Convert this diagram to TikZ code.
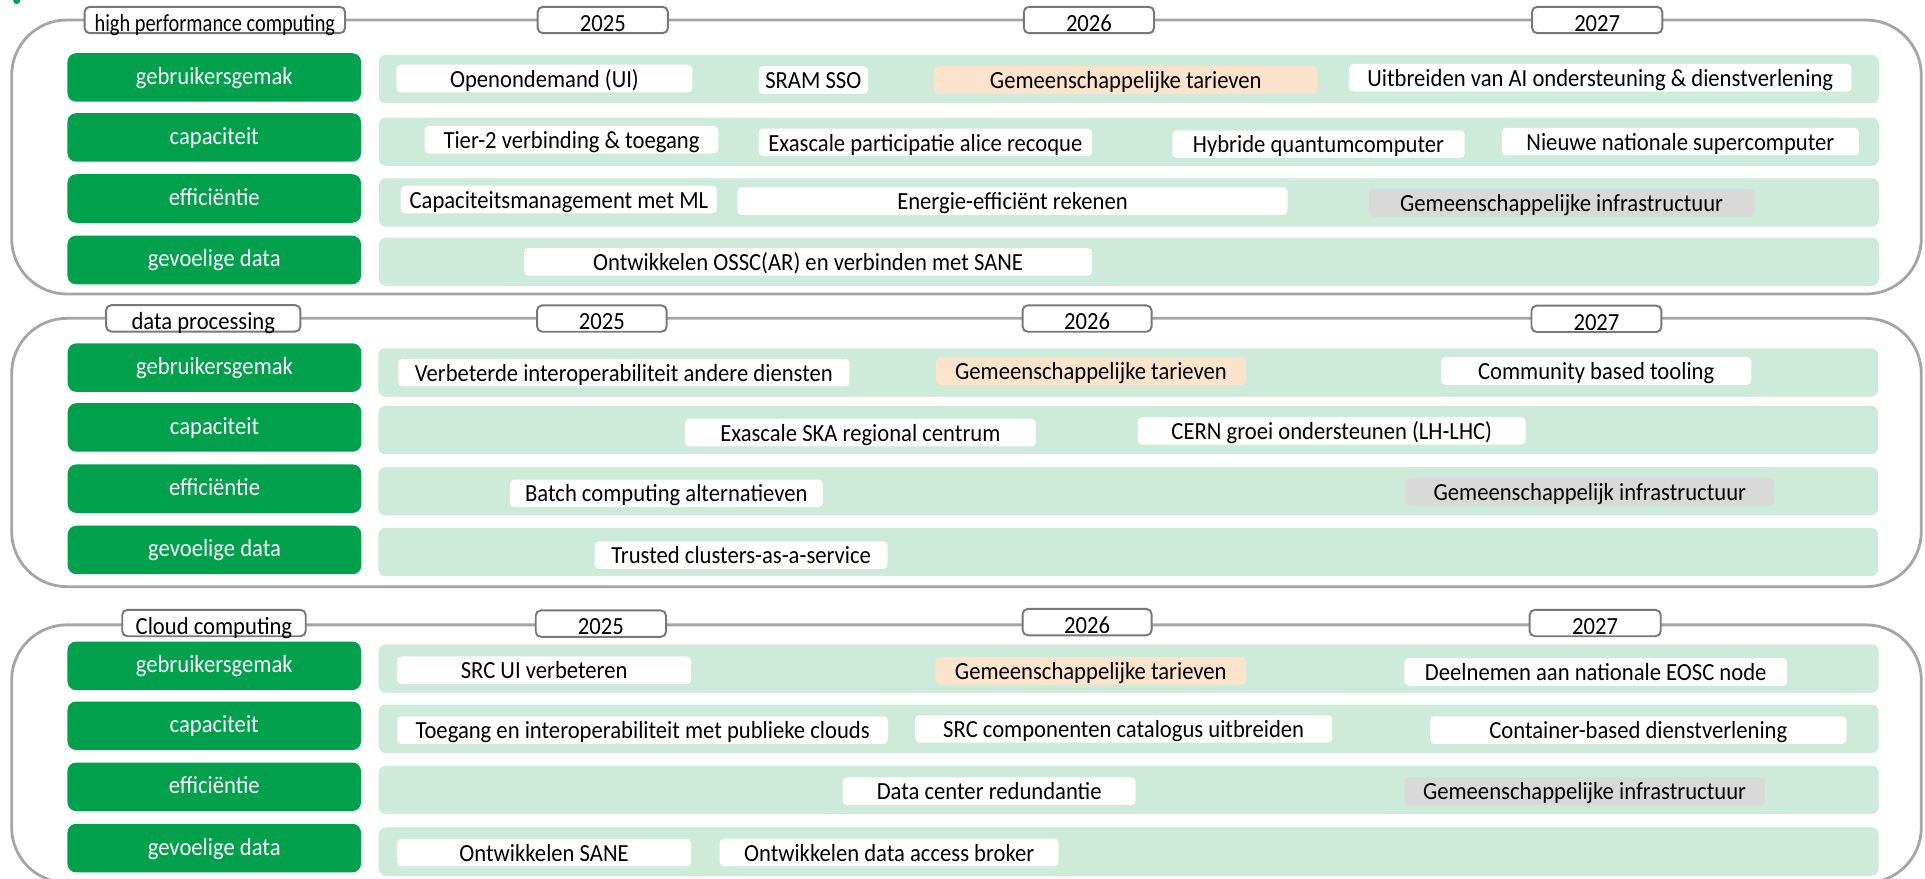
\documentclass[tikz,border=0pt]{standalone}
\usepackage{fontspec}
\usepackage{graphicx}
\setmainfont{Carlito}[FakeStretch=0.92]

\definecolor{catgreen}{RGB}{0,160,76}
\definecolor{bandgreen}{RGB}{206,234,218}
\definecolor{tariefpeach}{RGB}{251,227,204}
\definecolor{infragray}{RGB}{217,217,217}
\definecolor{framegray}{RGB}{165,165,165}
\definecolor{taggray}{RGB}{120,120,120}

\tikzset{
	secframe/.style={draw=framegray, line width=0.65pt, rounded corners=0.45cm},
	yeartag/.style={draw=taggray, line width=0.45pt, fill=white, rounded corners=1.2pt, inner sep=0pt, minimum height=0.215cm, text height=5.2pt, text depth=0pt},
	catbox/.style={fill=catgreen, text=white, rounded corners=2pt, inner sep=0pt, minimum width=2.39cm, minimum height=0.395cm, text height=3.2pt, text depth=0pt},
	rowband/.style={fill=bandgreen, rounded corners=1.6pt, inner sep=0pt, minimum width=12.21cm, minimum height=0.393cm},
	itembox/.style={fill=white, rounded corners=1pt, inner sep=0pt, minimum height=0.225cm, text height=4pt, text depth=0pt},
	tariefbox/.style={itembox, fill=tariefpeach},
	infrabox/.style={itembox, fill=infragray}
}

\begin{document}
\begin{tikzpicture}[x=0.01cm, y=-0.01cm, font=\fontsize{5.7pt}{6.8pt}\selectfont]

	\useasboundingbox (0,0) rectangle (1568,716);
	\fill[catgreen] (13.6,0.5) circle (0.8pt);

	% high performance computing
	\draw[secframe] (9.5,16.3) rectangle (1565,239.5);
	\node[yeartag, minimum width=2.12cm] (hpcTitle) at (175,16.3) {\scalebox{0.9}[1]{high performance computing}};
	\node[yeartag, minimum width=1.06cm] (hpcY25) at (491,16.3) {2025};
	\node[yeartag, minimum width=1.06cm] (hpcY26) at (887,16.3) {2026};
	\node[yeartag, minimum width=1.06cm] (hpcY27) at (1301,16.3) {2027};

	\node[catbox] (hpcGemak) at (174.5,63.1) {gebruikersgemak};
	\node[catbox] (hpcCap) at (174.5,112) {capaciteit};
	\node[catbox] (hpcEff) at (174.5,161.7) {efficiëntie};
	\node[catbox] (hpcData) at (174.5,211.8) {gevoelige data};

	\node[rowband] (hpcBandGemak) at (919.5,64.4) {};
	\node[rowband] (hpcBandCap) at (919.5,115.4) {};
	\node[rowband] (hpcBandEff) at (919.5,165) {};
	\node[rowband] (hpcBandData) at (919.5,213.2) {};

	\node[itembox, minimum width=2.41cm] (hpcOod) at (443.5,64) {Openondemand (UI)};
	\node[itembox, minimum width=0.89cm] (hpcSram) at (662.5,65.2) {SRAM SSO};
	\node[tariefbox, minimum width=3.12cm] (hpcTarief) at (917,65.2) {Gemeenschappelijke tarieven};
	\node[itembox, minimum width=4.09cm] (hpcAI) at (1303.5,63.3) {Uitbreiden van AI ondersteuning \& dienstverlening};

	\node[itembox, minimum width=2.39cm] (hpcTier) at (465.5,113.8) {Tier-2 verbinding \& toegang};
	\node[itembox, minimum width=2.715cm] (hpcExa) at (753.75,116) {Exascale participatie alice recoque};
	\node[itembox, minimum width=2.38cm] (hpcQuantum) at (1074,117.4) {Hybride quantumcomputer};
	\node[itembox, minimum width=2.905cm] (hpcSuper) at (1368.75,115.4) {Nieuwe nationale supercomputer};

	\node[itembox, minimum width=2.575cm] (hpcML) at (455.25,162.5) {Capaciteitsmanagement met ML};
	\node[itembox, minimum width=4.48cm] (hpcEnergie) at (824.7,163.8) {Energie-efficiënt rekenen};
	\node[infrabox, minimum width=3.14cm] (hpcInfra) at (1272,165.25) {Gemeenschappelijke infrastructuur};

	\node[itembox, minimum width=4.625cm] (hpcOssc) at (658.25,213.3) {Ontwikkelen OSSC(AR) en verbinden met SANE};

	% data processing
	\draw[secframe] (9.5,259.3) rectangle (1565,477.9);
	\node[yeartag, minimum width=1.582cm] (dpTitle) at (165.6,259.3) {data processing};
	\node[yeartag, minimum width=1.055cm] (dpY25) at (490.25,259.5) {2025};
	\node[yeartag, minimum width=1.05cm] (dpY26) at (885.5,259.5) {2026};
	\node[yeartag, minimum width=1.058cm] (dpY27) at (1300.4,259.7) {2027};

	\node[catbox] (dpGemak) at (174.75,299.45) {gebruikersgemak};
	\node[catbox] (dpCap) at (174.75,348.2) {capaciteit};
	\node[catbox] (dpEff) at (174.75,398.05) {efficiëntie};
	\node[catbox] (dpData) at (174.75,448) {gevoelige data};

	\node[rowband] (dpBandGemak) at (919.05,303.4) {};
	\node[rowband] (dpBandCap) at (919.05,350.35) {};
	\node[rowband] (dpBandEff) at (919.05,400.1) {};
	\node[rowband] (dpBandData) at (919.05,449.6) {};

	\node[itembox, minimum width=3.673cm] (dpInterop) at (508.15,303.55) {Verbeterde interoperabiliteit andere diensten};
	\node[tariefbox, minimum width=2.525cm] (dpTarief) at (888.65,302.3) {Gemeenschappelijke tarieven};
	\node[itembox, minimum width=2.524cm] (dpTooling) at (1300.2,302.15) {Community based tooling};

	\node[itembox, minimum width=2.856cm] (dpSka) at (700.8,352.3) {Exascale SKA regional centrum};
	\node[itembox, minimum width=3.156cm] (dpCern) at (1084.8,351) {CERN groei ondersteunen (LH-LHC)};

	\node[itembox, minimum width=2.547cm] (dpBatch) at (542.75,401.85) {Batch computing alternatieven};
	\node[infrabox, minimum width=3cm] (dpInfra) at (1295,400.75) {Gemeenschappelijk infrastructuur};

	\node[itembox, minimum width=2.386cm] (dpTrusted) at (603.7,452.2) {Trusted clusters-as-a-service};

	% cloud computing
	\draw[secframe] (9.5,509) rectangle (1565,719);
	\node[yeartag, minimum width=1.494cm] (ccTitle) at (174.3,507.5) {Cloud computing};
	\node[yeartag, minimum width=1.061cm] (ccY25) at (489.45,508) {2025};
	\node[yeartag, minimum width=1.05cm] (ccY26) at (885.5,506.75) {2026};
	\node[yeartag, minimum width=1.067cm] (ccY27) at (1299.35,507.5) {2027};

	\node[catbox] (ccGemak) at (174.5,542.35) {gebruikersgemak};
	\node[catbox] (ccCap) at (174.5,591.2) {capaciteit};
	\node[catbox] (ccEff) at (174.5,640.9) {efficiëntie};
	\node[catbox] (ccData) at (174.5,690.85) {gevoelige data};

	\node[rowband] (ccBandGemak) at (919.35,544.5) {};
	\node[rowband] (ccBandCap) at (919.35,593.65) {};
	\node[rowband] (ccBandEff) at (919.35,643.35) {};
	\node[rowband] (ccBandData) at (919.35,693.7) {};

	\node[itembox, minimum width=2.392cm] (ccSrcUI) at (443.2,546) {SRC UI verbeteren};
	\node[tariefbox, minimum width=2.53cm] (ccTarief) at (888.5,546.5) {Gemeenschappelijke tarieven};
	\node[itembox, minimum width=3.116cm] (ccEosc) at (1299.8,547.35) {Deelnemen aan nationale EOSC node};

	\node[itembox, minimum width=3.995cm] (ccClouds) at (523.45,594.7) {Toegang en interoperabiliteit met publieke clouds};
	\node[itembox, minimum width=3.394cm] (ccCatalogus) at (915.3,593.7) {SRC componenten catalogus uitbreiden};
	\node[itembox, minimum width=3.39cm] (ccContainer) at (1334.5,594.7) {Container-based dienstverlening};

	\node[itembox, minimum width=2.385cm] (ccRedundant) at (805.75,644.5) {Data center redundantie};
	\node[infrabox, minimum width=2.934cm] (ccInfra) at (1290.7,644.55) {Gemeenschappelijke infrastructuur};

	\node[itembox, minimum width=2.392cm] (ccSane) at (443.2,694.5) {Ontwikkelen SANE};
	\node[itembox, minimum width=2.76cm] (ccBroker) at (724.3,694.4) {Ontwikkelen data access broker};

\end{tikzpicture}
\end{document}
